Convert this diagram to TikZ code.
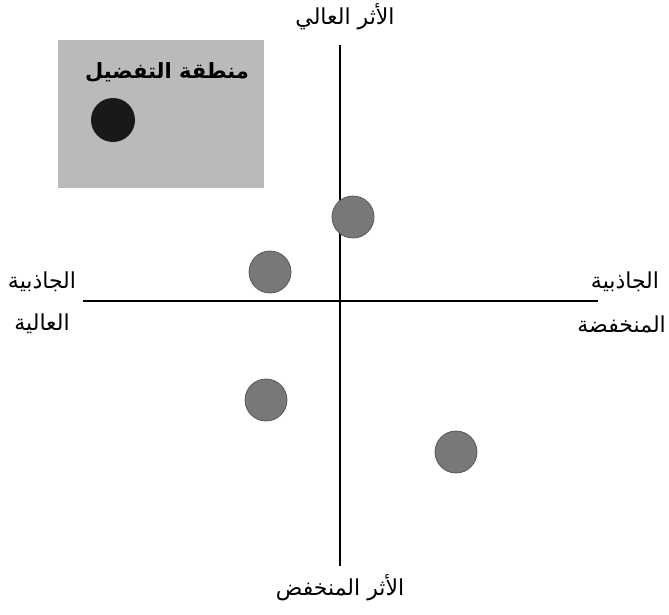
\documentclass[tikz,border=0pt]{standalone}
\usepackage{fontspec}
\newfontfamily\arabicfont[Script=Arabic]{DejaVu Sans}
\TeXXeTstate=1
\begin{document}
\begin{tikzpicture}[x=1pt,y=-1pt,
  lbl/.style={font=\arabicfont\fontsize{22}{26}\selectfont, inner sep=0pt, align=center},
  dot/.style={circle, fill=black!53, draw=black!65, line width=0.8pt, minimum size=42pt, inner sep=0pt},
  axis/.style={line width=2.8pt, black}]
\useasboundingbox (0,0) rectangle (669,614);
\fill[black!27] (58,40) rectangle (264,188);
\node[lbl, font=\arabicfont\bfseries\fontsize{21}{24}\selectfont] (zone) at (167,72) {\beginR منطقة التفضيل\endR};
\node[circle, fill=black!90, minimum size=44pt, inner sep=0pt] (pref) at (113,120) {};
\coordinate (vt) at (340,45);
\coordinate (vb) at (340,566);
\coordinate (hl) at (83,301);
\coordinate (hr) at (598,301);
\draw[axis] (vt) -- (vb);
\draw[axis, line width=2.4pt] (hl) -- (hr);
\node[dot] (c1) at (353,217) {};
\node[dot] (c2) at (270,272) {};
\node[dot] (c3) at (266,400) {};
\node[dot] (c4) at (456,452) {};
\node[lbl] (top) at (345,17) {\beginR الأثر العالي\endR};
\node[lbl] (bot) at (340,588) {\beginR الأثر المنخفض\endR};
\node[lbl] (l1) at (42,282) {\beginR الجاذبية\endR};
\node[lbl] (l2) at (42,324) {\beginR العالية\endR};
\node[lbl] (r1) at (625,282) {\beginR الجاذبية\endR};
\node[lbl, anchor=east] (r2) at (666,324) {\beginR المنخفضة\endR};
\end{tikzpicture}
\end{document}
